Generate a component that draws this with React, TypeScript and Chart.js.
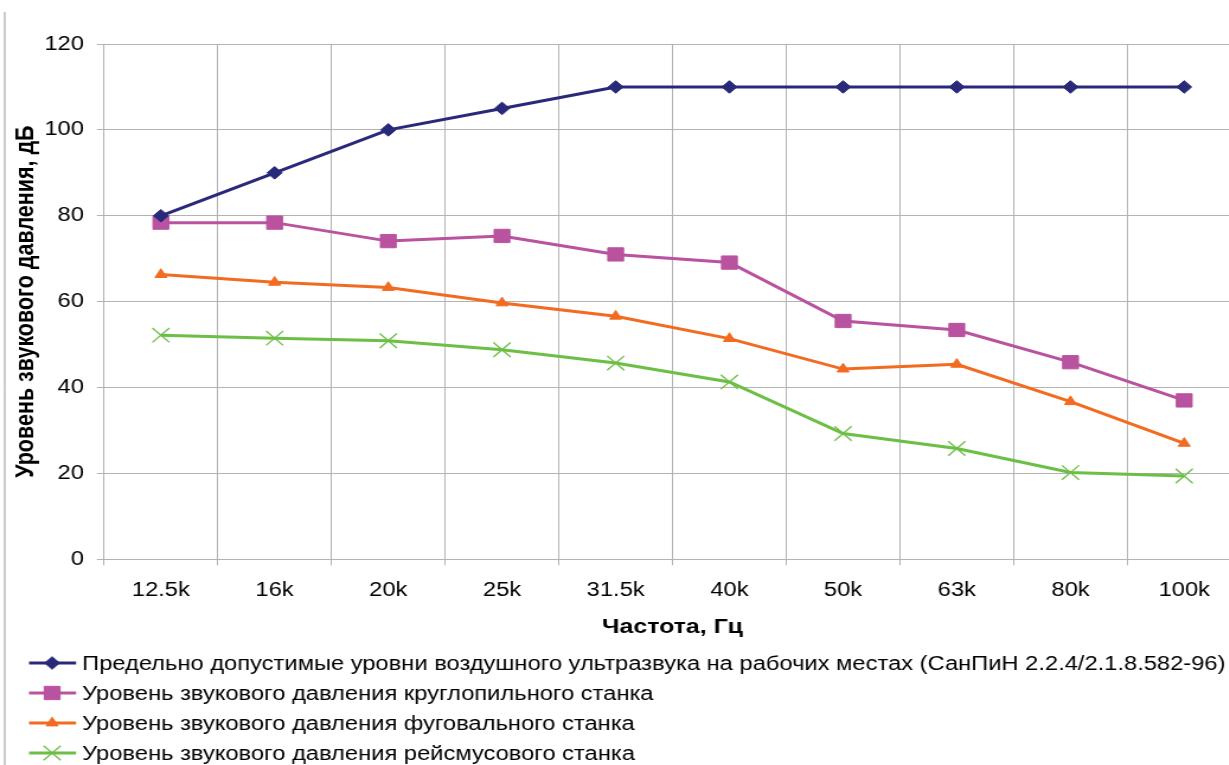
import React, { useEffect, useRef } from "react";
import { Chart, registerables } from "chart.js";
import { drawPoint } from "chart.js/helpers";

Chart.register(...registerables);

// Frequency bands (Hz)
const frequencies = ["12.5k", "16k", "20k", "25k", "31.5k", "40k", "50k", "63k", "80k", "100k"];

// Sound pressure levels, dB
const permissibleLevels = [80, 90, 100, 105, 110, 110, 110, 110, 110, 110];
const circularSawLevels = [78.4, 78.4, 74.1, 75.3, 71, 69.1, 55.5, 53.4, 45.9, 37];
const jointerLevels = [66.3, 64.5, 63.3, 59.7, 56.6, 51.4, 44.3, 45.4, 36.7, 27];
const thicknesserLevels = [52.2, 51.5, 50.9, 48.8, 45.7, 41.3, 29.3, 25.8, 20.2, 19.4];

const seriesLabels = [
  "Предельно допустимые уровни воздушного ультразвука на рабочих местах (СанПиН 2.2.4/2.1.8.582-96)",
  "Уровень звукового давления круглопильного станка",
  "Уровень звукового давления фуговального станка",
  "Уровень звукового давления рейсмусового станка",
];

const yTicks = [0, 20, 40, 60, 80, 100, 120];

const FONT = "'Liberation Sans', Arial, sans-serif";

// The canvas is drawn narrow and widened horizontally by this factor
const STRETCH = 1.185;
const CANVAS_W = 1070;
const CANVAS_H = 765;

// Vertical legend under the plot: line sample with marker, then the label
const legendPlugin = {
  id: "stackedLegend",
  afterDraw(chart: any) {
    const ctx = chart.ctx;
    const rowY = [663, 693, 723, 753];
    chart.data.datasets.forEach((ds: any, i: number) => {
      const y = rowY[i];
      ctx.save();
      ctx.strokeStyle = ds.borderColor;
      ctx.lineWidth = 3;
      ctx.beginPath();
      ctx.moveTo(24.5, y);
      ctx.lineTo(64.2, y);
      ctx.stroke();
      ctx.fillStyle = ds.pointBackgroundColor;
      ctx.strokeStyle = ds.pointBorderColor;
      ctx.lineWidth = ds.pointBorderWidth;
      drawPoint(ctx, {
        pointStyle: ds.pointStyle,
        radius: ds.pointRadius,
        borderWidth: ds.pointBorderWidth,
        rotation: 0,
      } as any, 44, y);
      ctx.font = `20px ${FONT}`;
      ctx.fillStyle = "#000";
      ctx.textBaseline = "middle";
      ctx.textAlign = "left";
      ctx.fillText(ds.label, 69.3, y + 1);
      ctx.restore();
    });
  },
};

// White background and the thin frame edge on the left
const framePlugin = {
  id: "frameEdge",
  beforeDraw(chart: any) {
    const ctx = chart.ctx;
    ctx.save();
    ctx.fillStyle = "#fff";
    ctx.fillRect(0, 0, chart.width, chart.height);
    ctx.strokeStyle = "#9a9a9a";
    ctx.lineWidth = 1;
    ctx.beginPath();
    ctx.moveTo(4, 12);
    ctx.lineTo(4, chart.height);
    ctx.stroke();
    ctx.restore();
  },
};

export default function App() {
  const canvasRef = useRef<HTMLCanvasElement | null>(null);

  useEffect(() => {
    const canvas = canvasRef.current;
    if (!canvas) return;
    const mk = (label: string, data: number[], color: string, style: string, radius: number, bw: number) => ({
      label,
      data,
      borderColor: color,
      backgroundColor: color,
      borderWidth: 3,
      pointStyle: style,
      pointRadius: radius,
      pointHoverRadius: radius,
      pointBackgroundColor: color,
      pointBorderColor: color,
      pointBorderWidth: bw,
      tension: 0,
    });
    const chart = new Chart(canvas, {
      type: "line",
      data: {
        labels: frequencies,
        datasets: [
          mk(seriesLabels[0], permissibleLevels, "#29297a", "rectRot", 6.3, 1),
          mk(seriesLabels[1], circularSawLevels, "#b9529f", "rect", 9.4, 1),
          mk(seriesLabels[2], jointerLevels, "#f26b21", "triangle", 5.8, 1),
          mk(seriesLabels[3], thicknesserLevels, "#6cbf45", "crossRot", 10.2, 1.3),
        ],
      },
      options: {
        responsive: false,
        animation: false,
        events: [],
        layout: { padding: { left: 0, right: CANVAS_W - 1047.3, top: 44, bottom: CANVAS_H - 559.3 - 90 } },
        plugins: {
          legend: { display: false },
          tooltip: { enabled: false },
        },
        scales: {
          x: {
            offset: true,
            grid: { color: "#b3b3b3", lineWidth: 1, tickLength: 6, offset: true, drawTicks: true },
            border: { color: "#b3b3b3" },
            ticks: { color: "#000", font: { family: FONT, size: 20 }, padding: 13, maxRotation: 0, autoSkip: false },
            title: {
              display: true,
              text: "Частота, Гц",
              color: "#000",
              font: { family: FONT, size: 21, weight: "bold" },
              padding: { top: 0, bottom: 9.4 },
            },
            afterFit: (scale: any) => {
              scale.height = 90;
            },
          },
          y: {
            min: 0,
            max: 120,
            afterBuildTicks: (scale: any) => {
              scale.ticks = yTicks.map((v) => ({ value: v }));
            },
            grid: { color: "#b3b3b3", lineWidth: 1, tickLength: 6 },
            border: { color: "#b3b3b3" },
            ticks: { color: "#000", font: { family: FONT, size: 20 }, padding: 11 },
            title: {
              display: true,
              text: "Уровень звукового давления, дБ",
              color: "#000",
              font: { family: FONT, size: 21.5, weight: "bold" },
              padding: { top: 9, bottom: 0 },
            },
            afterFit: (scale: any) => {
              scale.width = 87.8;
            },
          },
        },
      },
      plugins: [framePlugin, legendPlugin],
    } as any);
    return () => chart.destroy();
  }, []);

  return (
    <div style={{ position: "fixed", left: 0, top: 0, width: 1229, height: 765, overflow: "hidden", background: "#fff" }}>
      <canvas
        ref={canvasRef}
        width={CANVAS_W}
        height={CANVAS_H}
        style={{ display: "block", transformOrigin: "0 0", transform: `scaleX(${STRETCH})` }}
      />
    </div>
  );
}
